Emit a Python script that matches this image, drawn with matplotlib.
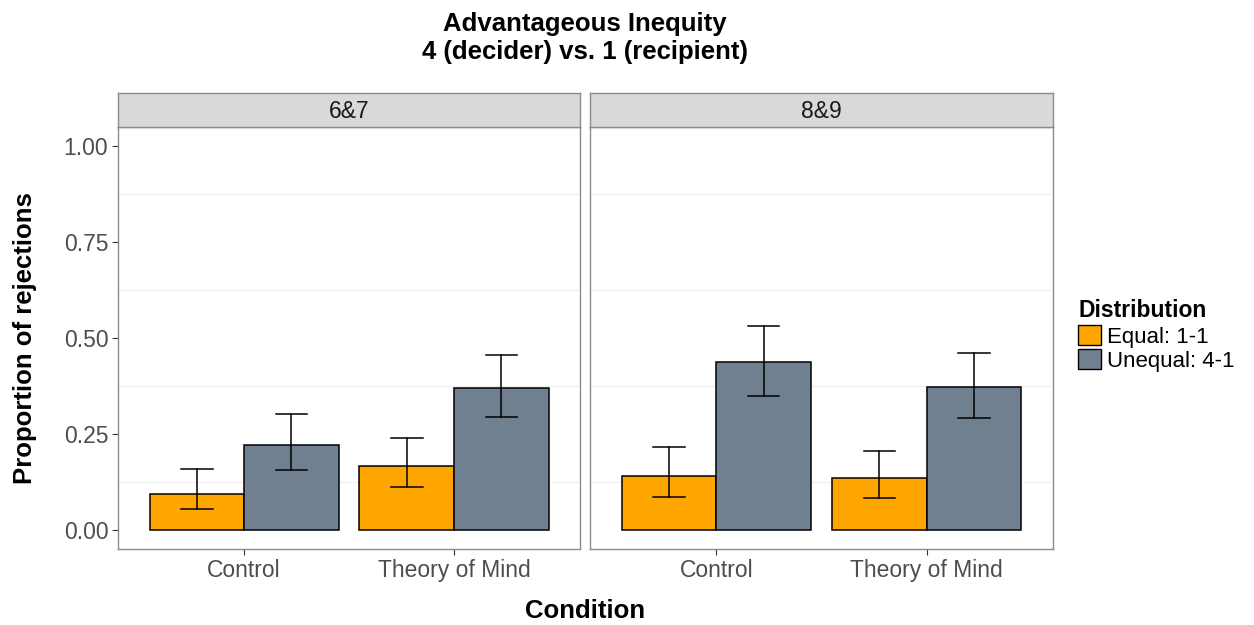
import matplotlib
matplotlib.use("Agg")
import matplotlib.pyplot as plt
from matplotlib.patches import Patch

plt.rcParams['font.family'] = ['Liberation Sans', 'DejaVu Sans']

# data
panels = ["6&7", "8&9"]
conditions = ["Control", "Theory of Mind"]
groups = ["Equal: 1-1", "Unequal: 4-1"]
colors = ["#FFA500", "#708090"]

# values[panel][group][condition]
values = {
    "6&7": [[0.094, 0.166], [0.221, 0.370]],
    "8&9": [[0.140, 0.134], [0.438, 0.372]],
}
err_lo = {
    "6&7": [[0.053, 0.111], [0.156, 0.293]],
    "8&9": [[0.086, 0.083], [0.349, 0.292]],
}
err_hi = {
    "6&7": [[0.159, 0.239], [0.302, 0.455]],
    "8&9": [[0.216, 0.205], [0.530, 0.460]],
}

W, H = 1254, 625
fig = plt.figure(figsize=(W / 100, H / 100), dpi=100)


def px_axes(x0, y0, x1, y1):
    return fig.add_axes([x0 / W, 1 - y1 / H, (x1 - x0) / W, (y1 - y0) / H])


frame_col = "#8c8c8c"
bw = 0.45
cap = 0.15
lefts = [118, 590]
rights = [580, 1053]
tick_fs = 16.5

for k, p in enumerate(panels):
    ax = px_axes(lefts[k], 127, rights[k], 549)
    for g in range(2):
        for c in range(2):
            xc = c + 1 + (g - 0.5) * bw
            v = values[p][g][c]
            ax.bar(xc, v, width=bw, color=colors[g], edgecolor="black",
                   linewidth=1.1, zorder=2)
            lo, hi = err_lo[p][g][c], err_hi[p][g][c]
            ax.plot([xc, xc], [lo, hi], color="black", lw=1.1, zorder=3)
            ax.plot([xc - cap / 2, xc + cap / 2], [lo, lo], color="black", lw=1.1, zorder=3)
            ax.plot([xc - cap / 2, xc + cap / 2], [hi, hi], color="black", lw=1.1, zorder=3)
    for yg in [0.125, 0.375, 0.625, 0.875]:
        ax.axhline(yg, color="#f0f0f0", lw=1, zorder=1)
    ax.set_xlim(0.4, 2.6)
    ax.set_ylim(-0.05, 1.05)
    ax.set_xticks([1, 2])
    ax.set_xticklabels(conditions, fontsize=tick_fs, color="#4d4d4d")
    ax.set_yticks([0, 0.25, 0.5, 0.75, 1.0])
    if k == 0:
        ax.set_yticklabels(["0.00", "0.25", "0.50", "0.75", "1.00"],
                           fontsize=tick_fs, color="#4d4d4d")
    else:
        ax.tick_params(axis="y", length=0, labelleft=False)
    ax.tick_params(colors="#333333", length=4, width=0.8, labelcolor="#4d4d4d", pad=3)
    if k == 1:
        ax.tick_params(axis="y", length=0)
    for s in ax.spines.values():
        s.set_color(frame_col)
        s.set_linewidth(1)

    # facet strip
    st = px_axes(lefts[k], 93, rights[k], 127)
    st.set_facecolor("#d9d9d9")
    st.set_xticks([])
    st.set_yticks([])
    for s in st.spines.values():
        s.set_color(frame_col)
        s.set_linewidth(1)
    st.text(0.5, 0.47, p, ha="center", va="center", fontsize=16.5,
            color="#1a1a1a", transform=st.transAxes)

fig.text(585 / W, 1 - 24 / H, "Advantageous Inequity", ha="center", va="center",
         fontsize=18.5, fontweight="bold")
fig.text(585 / W, 1 - 52 / H, "4 (decider) vs. 1 (recipient)", ha="center", va="center",
         fontsize=18.5, fontweight="bold")
fig.text(585 / W, 1 - 611 / H, "Condition", ha="center", va="center",
         fontsize=18.5, fontweight="bold")
fig.text(25 / W, 1 - 338 / H, "Proportion of rejections", ha="center", va="center",
         fontsize=18.5, fontweight="bold", rotation=90)

handles = [Patch(facecolor=colors[i], edgecolor="black", linewidth=1, label=groups[i])
           for i in range(2)]
leg = fig.legend(handles=handles, title="Distribution", loc="upper left",
                 bbox_to_anchor=(1078 / W, 1 - 299 / H), frameon=False,
                 fontsize=16, title_fontproperties={"weight": "bold", "size": 16.5},
                 handlelength=1.05, handleheight=1.05, handletextpad=0.25,
                 labelspacing=0.05, borderaxespad=0, borderpad=0)
leg._legend_box.align = "left"
leg._legend_box.sep = 2

fig.savefig("out.png", dpi=100)
